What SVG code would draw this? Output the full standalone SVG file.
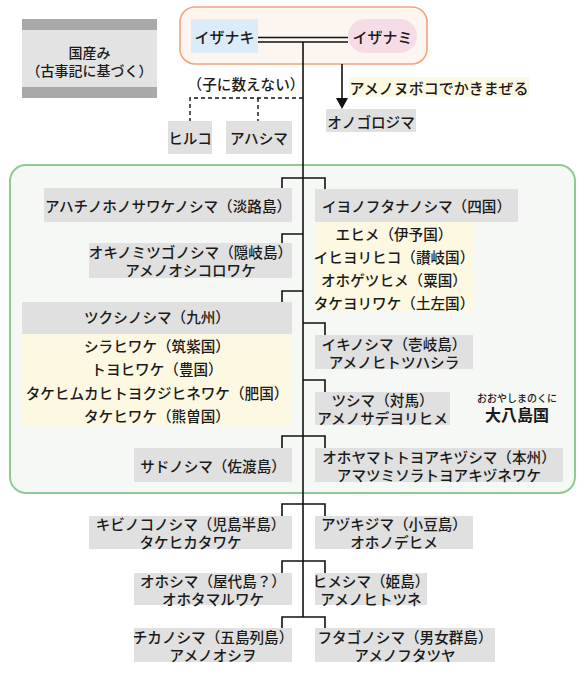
<svg xmlns="http://www.w3.org/2000/svg" width="586" height="686" viewBox="0 0 586 686">
<style>
text{font-family:"Noto Sans CJK JP","Noto Sans",sans-serif;font-size:14.6px;font-weight:500;fill:#1a1a1a;dominant-baseline:central;text-anchor:middle}
.g{fill:#e0e0e0}
.y{fill:#fdf8e2}
.ln{stroke:#111;stroke-width:1.6;fill:none}
.dash{stroke:#111;stroke-width:1.4;fill:none;stroke-dasharray:4 3}
</style>
<rect width="586" height="686" fill="#ffffff"/>

<g id="legend">
<rect x="22" y="19" width="135" height="79" fill="#e3e3e3"/>
<rect x="22" y="19" width="135" height="11" fill="#a9a9a9"/>
<rect x="22" y="87" width="135" height="11" fill="#a9a9a9"/>
<text x="89.5" y="51.5" style="font-size:14px">国産み</text>
<text x="89.5" y="70" style="font-size:14px">（古事記に基づく）</text>
</g>

<g id="parents">
<rect x="180" y="7" width="247" height="57" rx="15" fill="#fdf6f0" stroke="#efa57f" stroke-width="1.6"/>
</g>
<g id="izanaki">
<rect x="191" y="19" width="67" height="34" fill="#dbebf8"/>
<text x="224.5" y="36" style="font-size:15px">イザナキ</text>
</g>
<g id="izanami">
<rect x="348" y="19" width="69" height="34" rx="17" fill="#f6dce7"/>
<text x="382.5" y="36" style="font-size:15px">イザナミ</text>
</g>

<g id="oyashima-frame">
<rect x="10" y="165" width="565" height="328" rx="16" fill="#f6f8f6" stroke="#8fca93" stroke-width="2"/>
</g>

<g id="legend-daiyashima">
<text x="517" y="397.5" style="font-size:10px">おおやしまのくに</text>
<text x="517" y="414" style="font-size:16px;font-weight:bold">大八島国</text>
</g>

<g id="connectors">
<line x1="258" y1="37.5" x2="348" y2="37.5" class="ln"/>
<line x1="258" y1="42" x2="348" y2="42" class="ln"/>
<line x1="303" y1="42" x2="303" y2="617" class="ln"/>
<polyline points="303,98 190,98 190,121" class="dash"/>
<line x1="258" y1="98" x2="258" y2="121" class="dash"/>
<line x1="342" y1="64" x2="342" y2="99" class="ln"/>
<polygon points="336,98 348,98 342,109" fill="#111"/>
<polyline points="282,188 282,178 325,178 325,189" class="ln"/>
<polyline points="282,243 282,234 303,234" class="ln"/>
<polyline points="282,302 282,291 303,291" class="ln"/>
<polyline points="303,323 325,323 325,335" class="ln"/>
<polyline points="303,380 325,380 325,392" class="ln"/>
<polyline points="282,448 282,436 325,436 325,448" class="ln"/>
<polyline points="282,516 282,504 325,504 325,516" class="ln"/>
<polyline points="282,573 282,561 325,561 325,573" class="ln"/>
<polyline points="282,628 282,617 325,617 325,628" class="ln"/>
</g>

<g id="ame-no-nuboko">
<rect x="349" y="77" width="180" height="20" class="y"/>
<text x="439" y="87" style="font-size:15px">アメノヌボコでかきまぜる</text>
</g>
<g id="onogoro">
<rect x="326" y="109" width="90" height="23" class="g"/>
<text x="371" y="121">オノゴロジマ</text>
</g>
<g id="not-counted">
<text x="246" y="83">（子に数えない）</text>
</g>
<g id="hiruko">
<rect x="168" y="121" width="44" height="33" class="g"/>
<text x="190" y="137.5">ヒルコ</text>
</g>
<g id="awashima">
<rect x="226" y="121" width="66" height="33" class="g"/>
<text x="259" y="137.5">アハシマ</text>
</g>

<g id="awaji">
<rect x="44" y="188" width="248" height="34" class="g"/>
<text x="168" y="205">アハチノホノサワケノシマ（淡路島）</text>
</g>
<g id="iyo">
<rect x="315" y="189" width="203" height="33" class="g"/>
<text x="416.5" y="205.5">イヨノフタナノシマ（四国）</text>
<rect x="315" y="222" width="158" height="90" class="y"/>
<text x="394" y="233">エヒメ（伊予国）</text>
<text x="394" y="256">イヒヨリヒコ（讃岐国）</text>
<text x="394" y="279">オホゲツヒメ（粟国）</text>
<text x="394" y="302">タケヨリワケ（土左国）</text>
</g>
<g id="oki">
<rect x="89" y="243" width="203" height="35" class="g"/>
<text x="190.5" y="251.5">オキノミツゴノシマ（隠岐島）</text>
<text x="190.5" y="269">アメノオシコロワケ</text>
</g>
<g id="tsukushi">
<rect x="22" y="302" width="270" height="32" class="g"/>
<text x="157" y="316">ツクシノシマ（九州）</text>
<rect x="22" y="334" width="270" height="91" class="y"/>
<text x="157" y="345">シラヒワケ（筑紫国）</text>
<text x="157" y="368">トヨヒワケ（豊国）</text>
<text x="157" y="392">タケヒムカヒトヨクジヒネワケ（肥国）</text>
<text x="157" y="415">タケヒワケ（熊曽国）</text>
</g>
<g id="iki">
<rect x="315" y="335" width="158" height="34" class="g"/>
<text x="394" y="343.5">イキノシマ（壱岐島）</text>
<text x="394" y="361">アメノヒトツハシラ</text>
</g>
<g id="tsushima">
<rect x="315" y="392" width="135" height="33" class="g"/>
<text x="382.5" y="399.5">ツシマ（対馬）</text>
<text x="382.5" y="417">アメノサデヨリヒメ</text>
</g>
<g id="sado">
<rect x="134" y="448" width="158" height="34" class="g"/>
<text x="213" y="465">サドノシマ（佐渡島）</text>
</g>
<g id="honshu">
<rect x="315" y="448" width="248" height="34" class="g"/>
<text x="439" y="456.5">オホヤマトトヨアキヅシマ（本州）</text>
<text x="439" y="474">アマツミソラトヨアキヅネワケ</text>
</g>

<g id="kibi">
<rect x="89" y="516" width="203" height="33" class="g"/>
<text x="190.5" y="523.5">キビノコノシマ（児島半島）</text>
<text x="190.5" y="541">タケヒカタワケ</text>
</g>
<g id="azuki">
<rect x="315" y="516" width="158" height="33" class="g"/>
<text x="394" y="523.5">アヅキジマ（小豆島）</text>
<text x="394" y="541">オホノデヒメ</text>
</g>
<g id="oshima">
<rect x="134" y="573" width="158" height="32" class="g"/>
<text x="213" y="580.5">オホシマ（屋代島？）</text>
<text x="213" y="598">オホタマルワケ</text>
</g>
<g id="himeshima">
<rect x="315" y="573" width="112" height="32" class="g"/>
<text x="371" y="580.5">ヒメシマ（姫島）</text>
<text x="371" y="598">アメノヒトツネ</text>
</g>
<g id="chika">
<rect x="134" y="628" width="158" height="34" class="g"/>
<text x="213" y="636.5">チカノシマ（五島列島）</text>
<text x="213" y="654">アメノオシヲ</text>
</g>
<g id="futago">
<rect x="315" y="628" width="180" height="34" class="g"/>
<text x="405" y="636.5">フタゴノシマ（男女群島）</text>
<text x="405" y="654">アメノフタツヤ</text>
</g>
</svg>
